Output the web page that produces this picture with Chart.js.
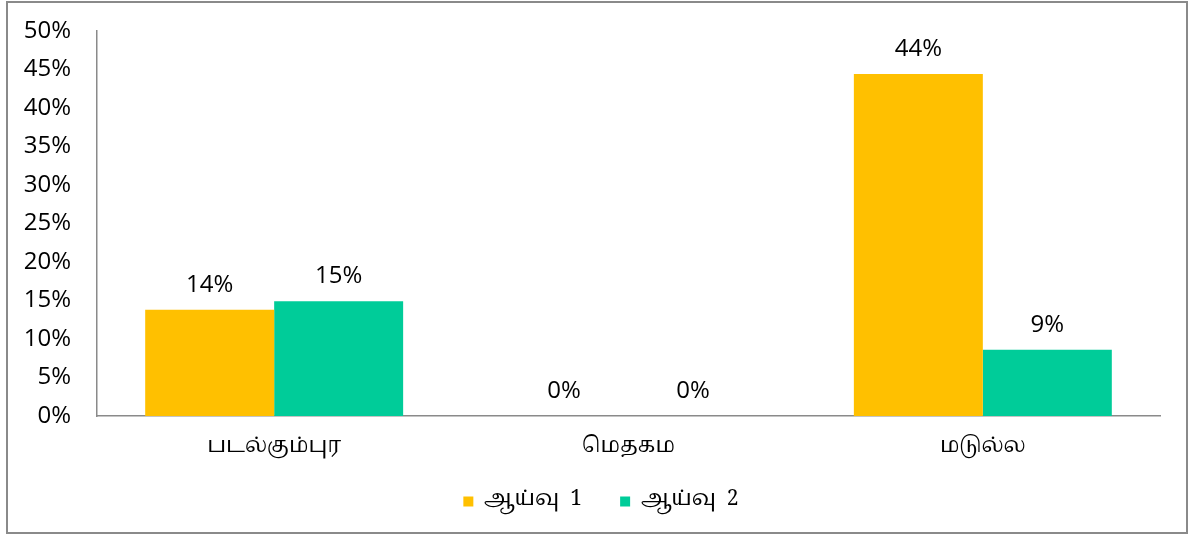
<!DOCTYPE html>
<html>
<head>
<meta charset="utf-8">
<script src="https://cdn.jsdelivr.net/npm/chart.js@4"></script>
<style>
  html, body { margin: 0; padding: 0; background: #fff; }
  #wrap { position: relative; width: 1192px; height: 536px; }
  #frame { position: absolute; left: 6px; top: 1px; width: 1178px; height: 529px; border: 2px solid #8a8a8a; pointer-events: none; }
</style>
</head>
<body>
<div id="wrap">
  <canvas id="chart" width="1192" height="536"></canvas>
  <div id="frame"></div>
</div>
<script>
// categories and series
const places = ['படல்கும்புர', 'மெதகம', 'மடுல்ல'];
const seriesNames = ['ஆய்வு  1', 'ஆய்வு  2'];
const survey1 = [13.8, 0, 44.4];
const survey2 = [14.9, 0, 8.6];
const yTicks = [0, 5, 10, 15, 20, 25, 30, 35, 40, 45, 50];

const tamilFont = '"Noto Serif Tamil", Latha, "Liberation Serif", serif';
const numFont = '"Open Sans", "DejaVu Sans", sans-serif';

// labels on top of bars
const barLabels = {
  id: 'barLabels',
  afterDatasetsDraw(chart) {
    const ctx = chart.ctx;
    ctx.save();
    ctx.font = '24px ' + numFont;
    ctx.fillStyle = '#000';
    ctx.textAlign = 'center';
    ctx.textBaseline = 'middle';
    chart.data.datasets.forEach((ds, i) => {
      chart.getDatasetMeta(i).data.forEach((bar, j) => {
        ctx.fillText(Math.round(ds.data[j]) + '%', bar.x, bar.y - 25);
      });
    });
    ctx.restore();
  }
};

// center the legend on the whole canvas rather than the plot
const legendShift = {
  id: 'legendShift',
  afterLayout(chart) {
    chart.legend.left += 21;
    chart.legend.right += 21;
  }
};

new Chart(document.getElementById('chart'), {
  type: 'bar',
  data: {
    labels: places,
    datasets: [
      { label: seriesNames[0], data: survey1, backgroundColor: '#FFC000' },
      { label: seriesNames[1], data: survey2, backgroundColor: '#00CC99' }
    ]
  },
  options: {
    responsive: false,
    animation: false,
    devicePixelRatio: 1,
    layout: { padding: { left: 0, right: 32, top: 0, bottom: 14 } },
    datasets: { bar: { categoryPercentage: 0.728, barPercentage: 1 } },
    plugins: {
      legend: {
        position: 'bottom',
        labels: {
          boxWidth: 10, boxHeight: 10, padding: 12,
          color: '#000',
          font: { family: tamilFont, size: 21 },
          generateLabels: chart => {
            const items = Chart.defaults.plugins.legend.labels.generateLabels(chart);
            items[0].text += '\u2003\u2005';
            return items;
          }
        }
      },
      tooltip: { enabled: false }
    },
    scales: {
      x: {
        afterFit: s => { s.height = 63; },
        grid: { display: false, drawTicks: false },
        border: { color: '#8a8a8a', width: 1.5 },
        ticks: { color: '#000', padding: 20, font: { family: tamilFont, size: 21 } }
      },
      y: {
        min: yTicks[0], max: yTicks[yTicks.length - 1],
        afterBuildTicks: s => { s.ticks = yTicks.map(v => ({ value: v })); },
        afterFit: s => { s.width = 97; s.paddingTop = 31; s.paddingBottom = 0; },
        grid: { display: false, drawTicks: false },
        border: { color: '#8a8a8a', width: 1.5 },
        ticks: { color: '#000', padding: 26, font: { family: numFont, size: 24 }, callback: v => v + '%' }
      }
    }
  },
  plugins: [barLabels, legendShift]
});
</script>
</body>
</html>
